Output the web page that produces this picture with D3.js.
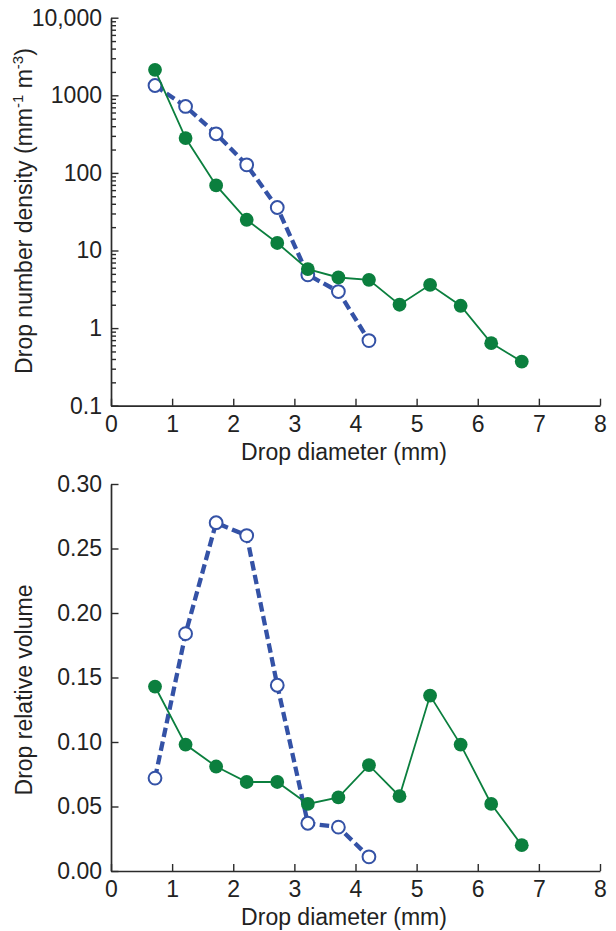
<!DOCTYPE html>
<html>
<head>
<meta charset="utf-8">
<script src="https://cdn.jsdelivr.net/npm/d3@7"></script>
<style>
  html, body { margin: 0; padding: 0; background: #fff; }
  svg { display: block; }
  text { font-family: "Liberation Sans", Arial, Helvetica, sans-serif; fill: #222; }
</style>
</head>
<body>
<svg id="chart" width="616" height="931"></svg>
<script>
// ---- Data ----
const diameter = [0.72, 1.22, 1.72, 2.22, 2.72, 3.22, 3.72, 4.22, 4.72, 5.22, 5.72, 6.22, 6.72];
const densityGreen = [2130, 281, 69, 24.9, 12.5, 5.76, 4.49, 4.19, 2.0, 3.61, 1.94, 0.64, 0.37];
const densityBlue  = [1337, 718, 319, 127, 35.8, 4.86, 2.96, 0.69];
const volumeGreen  = [0.143, 0.098, 0.081, 0.069, 0.069, 0.052, 0.057, 0.082, 0.058, 0.136, 0.098, 0.052, 0.020];
const volumeBlue   = [0.072, 0.184, 0.270, 0.260, 0.144, 0.037, 0.034, 0.011];

const xTicks = [0, 1, 2, 3, 4, 5, 6, 7, 8];
const logTicks = [0.1, 1, 10, 100, 1000, 10000];
const logTickLabels = ["0.1", "1", "10", "100", "1000", "10,000"];
const volTicks = [0, 0.05, 0.10, 0.15, 0.20, 0.25, 0.30];
const volTickLabels = ["0.00", "0.05", "0.10", "0.15", "0.20", "0.25", "0.30"];

const xTitle = "Drop diameter (mm)";
const yTitleVolume = "Drop relative volume";

// ---- Style ----
const GREEN = "#0b7f3e";
const BLUE = "#3452a6";
const AXIS = "#2b2b2b";
const FONT = 23;

const svg = d3.select("#chart");
const left = 111, right = 600;

const x = d3.scaleLinear().domain([0, 8]).range([left, right]);

function styleAxis(g) {
  g.select(".domain").attr("stroke", AXIS).attr("stroke-width", 1.7);
  g.selectAll(".tick line").attr("stroke", AXIS).attr("stroke-width", 1.4);
  g.selectAll(".tick text").style("font-size", FONT + "px").attr("fill", "#222");
}

function drawXAxis(yPos, titleY) {
  const g = svg.append("g").attr("transform", `translate(0,${yPos})`)
    .call(d3.axisBottom(x).tickValues(xTicks).tickFormat(d3.format("d"))
      .tickSize(-7).tickSizeOuter(0).tickPadding(8));
  styleAxis(g);
  g.selectAll(".tick text").attr("dy", "0.78em");
  svg.append("text").attr("x", 344).attr("y", titleY)
    .attr("text-anchor", "middle").style("font-size", FONT + "px").text(xTitle);
}

function drawSeries(g, xs, ys, yScale, color, dashed, filled) {
  const pts = ys.map((v, i) => [xs[i], v]);
  const line = d3.line().x(d => x(d[0])).y(d => yScale(d[1]));
  g.append("path").datum(pts).attr("d", line).attr("fill", "none")
    .attr("stroke", color)
    .attr("stroke-width", dashed ? 4.3 : 1.8)
    .attr("stroke-dasharray", dashed ? "9.5,4.5" : null);
  g.selectAll(null).data(pts).enter().append("circle")
    .attr("cx", d => x(d[0])).attr("cy", d => yScale(d[1]))
    .attr("r", filled ? 6.9 : 6.4)
    .attr("fill", filled ? color : "#fff")
    .attr("stroke", color)
    .attr("stroke-width", filled ? 0 : 2);
}

// ================= TOP: number density (log) =================
const yTop = d3.scaleLog().domain([0.1, 10000]).range([405.7, 17.7]);

// minor ticks
const minor = [];
for (let e = -1; e < 4; e++) {
  for (let m = 2; m <= 9; m++) minor.push(m * Math.pow(10, e));
}
const gMinor = svg.append("g").attr("transform", `translate(${left},0)`)
  .call(d3.axisLeft(yTop).tickValues(minor).tickFormat("").tickSize(-5).tickSizeOuter(0));
styleAxis(gMinor);
gMinor.select(".domain").remove();

const gYTop = svg.append("g").attr("transform", `translate(${left},0)`)
  .call(d3.axisLeft(yTop).tickValues(logTicks)
    .tickFormat((d, i) => logTickLabels[i])
    .tickSize(-7.5).tickSizeOuter(0).tickPadding(9));
styleAxis(gYTop);

drawXAxis(405.7, 460);

// y title with superscripts
const yt = svg.append("text")
  .attr("transform", `translate(32,${211}) rotate(-90)`)
  .attr("text-anchor", "middle").style("font-size", FONT + "px");
yt.append("tspan").text("Drop number density (mm");
yt.append("tspan").attr("dy", -9).style("font-size", "15px").text("-1");
yt.append("tspan").attr("dy", 9).text(" m");
yt.append("tspan").attr("dy", -9).style("font-size", "15px").text("-3");
yt.append("tspan").attr("dy", 9).text(")");

const gTop = svg.append("g");
drawSeries(gTop, diameter, densityBlue, yTop, BLUE, true, false);
drawSeries(gTop, diameter, densityGreen, yTop, GREEN, false, true);

// ================= BOTTOM: relative volume =================
const yBot = d3.scaleLinear().domain([0, 0.30]).range([871, 484]);

const gYBot = svg.append("g").attr("transform", `translate(${left},0)`)
  .call(d3.axisLeft(yBot).tickValues(volTicks)
    .tickFormat((d, i) => volTickLabels[i])
    .tickSize(-7.5).tickSizeOuter(0).tickPadding(9));
styleAxis(gYBot);

drawXAxis(871, 925);

svg.append("text")
  .attr("transform", `translate(32,${690}) rotate(-90)`)
  .attr("text-anchor", "middle").style("font-size", FONT + "px")
  .text(yTitleVolume);

const gBot = svg.append("g");
drawSeries(gBot, diameter, volumeBlue, yBot, BLUE, true, false);
drawSeries(gBot, diameter, volumeGreen, yBot, GREEN, false, true);
</script>
</body>
</html>
